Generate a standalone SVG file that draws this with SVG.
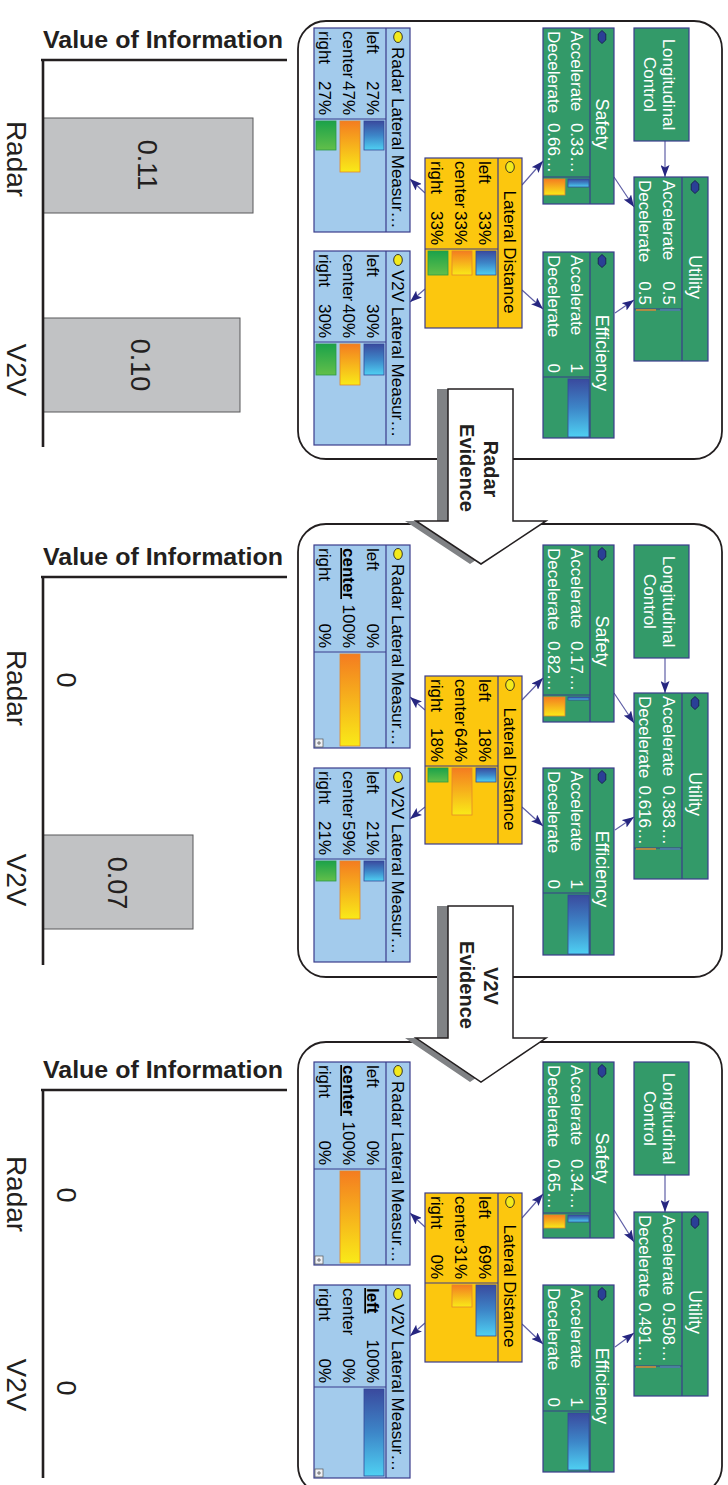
<svg xmlns="http://www.w3.org/2000/svg" xmlns:xlink="http://www.w3.org/1999/xlink" width="728" height="1485" viewBox="0 0 728 1485">
<style>
.pn{fill:#fff;stroke:#231f20;stroke-width:1.8}
.nb{fill:#a3cbec;stroke:#3b3d8c;stroke-width:1.2}
.ny{fill:#fcc70e;stroke:#3b3d8c;stroke-width:1.2}
.ng{fill:#339a69;stroke:#3b3d8c;stroke-width:1.2}
.ln{stroke:#3b3d8c;stroke-width:1.2;fill:none}
.tx{font-family:"Liberation Sans",Arial,sans-serif;font-size:17px;fill:#000}
.tw{font-family:"Liberation Sans",Arial,sans-serif;font-size:17px;fill:#fff}
.tt{font-size:18px}
.e{text-anchor:end}
.m{text-anchor:middle}
.bd{font-weight:bold;text-decoration:underline}
.bB{fill:url(#gB);stroke:#34499a;stroke-width:0.8}
.bO{fill:url(#gO);stroke:#e4872b;stroke-width:0.8}
.bG{fill:url(#gG);stroke:#2c9a48;stroke-width:0.8}
.dot{fill:#f3ea1c;stroke:#222;stroke-width:0.9}
.hex{fill:#2a3f96;stroke:#16164a;stroke-width:0.8}
.cn{stroke:#5f5fa6;stroke-width:1.2;fill:none;marker-end:url(#ah)}
.ic{fill:#eef0f4;stroke:#555;stroke-width:0.7}
.ev{fill:#fff;stroke:#231f20;stroke-width:1.5}
.sh{fill:#808285}
.et{font-family:"Liberation Sans",Arial,sans-serif;font-size:20px;font-weight:bold;fill:#231f20;text-anchor:middle}
.vt{font-family:"Liberation Sans",Arial,sans-serif;font-size:23px;font-weight:bold;fill:#231f20}
.ax{stroke:#231f20;stroke-width:2.6;fill:none}
.bar{fill:#c1c2c4;stroke:#58595b;stroke-width:1}
.cl{font-family:"Liberation Sans",Arial,sans-serif;font-size:28px;fill:#231f20;text-anchor:middle}
.cv{font-family:"Liberation Sans",Arial,sans-serif;font-size:27px;fill:#231f20;text-anchor:middle}
</style>
<defs>
<linearGradient id="gB" x1="0" y1="0" x2="1" y2="0"><stop offset="0" stop-color="#3a4a9e"/><stop offset="0.5" stop-color="#3d86c8"/><stop offset="1" stop-color="#4fd0f2"/></linearGradient>
<linearGradient id="gO" x1="0" y1="0" x2="1" y2="0"><stop offset="0" stop-color="#f47c20"/><stop offset="1" stop-color="#f9ea18"/></linearGradient>
<linearGradient id="gG" x1="0" y1="0" x2="1" y2="0"><stop offset="0" stop-color="#1ba24a"/><stop offset="1" stop-color="#62bf4a"/></linearGradient>
<marker id="ah" viewBox="0 0 12 9" refX="12" refY="4.5" markerWidth="12" markerHeight="9" markerUnits="userSpaceOnUse" orient="auto"><path d="M0,0 L12,4.5 L0,9 L2.5,4.5 Z" fill="#262680"/></marker>
<ellipse id="dt" class="dot" cx="0" cy="0" rx="5.5" ry="4.3"/>
<path id="hx" class="hex" d="M-6.5,0 L-3,-3.8 L3,-3.8 L6.5,0 L3,3.8 L-3,3.8 Z"/>
<g id="icn"><rect class="ic" x="0" y="0" width="8" height="8"/><path d="M2,4 H6 M4,2 V6" stroke="#555" stroke-width="0.8"/></g>
</defs>
<rect x="0" y="0" width="728" height="1485" fill="#fff"/>

<g id="voi1">
<text class="vt" x="43" y="48" textLength="240" lengthAdjust="spacingAndGlyphs">Value of Information</text>
<rect class="bar" x="43" y="118" width="210" height="95"/>
<rect class="bar" x="43" y="318" width="197" height="94"/>
<line class="ax" x1="41" y1="60" x2="287" y2="60"/>
<line class="ax" x1="43" y1="59" x2="43" y2="447"/>
<text class="cl" transform="translate(7,159) rotate(90)">Radar</text>
<text class="cv" transform="translate(138,165) rotate(90)">0.11</text>
<text class="cl" transform="translate(7,370) rotate(90)">V2V</text>
<text class="cv" transform="translate(131,365) rotate(90)">0.10</text>
</g>
<g id="voi2">
<text class="vt" x="43" y="565" textLength="240" lengthAdjust="spacingAndGlyphs">Value of Information</text>
<rect class="bar" x="43" y="835" width="150" height="94"/>
<line class="ax" x1="41" y1="577" x2="287" y2="577"/>
<line class="ax" x1="43" y1="576" x2="43" y2="965"/>
<text class="cl" transform="translate(7,688) rotate(90)">Radar</text>
<text class="cv" transform="translate(57,680) rotate(90)">0</text>
<text class="cl" transform="translate(7,880) rotate(90)">V2V</text>
<text class="cv" transform="translate(108,883) rotate(90)">0.07</text>
</g>
<g id="voi3">
<text class="vt" x="43" y="1078" textLength="240" lengthAdjust="spacingAndGlyphs">Value of Information</text>
<line class="ax" x1="41" y1="1090" x2="287" y2="1090"/>
<line class="ax" x1="43" y1="1089" x2="43" y2="1478"/>
<text class="cl" transform="translate(7,1194) rotate(90)">Radar</text>
<text class="cv" transform="translate(57,1195) rotate(90)">0</text>
<text class="cl" transform="translate(7,1385) rotate(90)">V2V</text>
<text class="cv" transform="translate(57,1388) rotate(90)">0</text>
</g>

<g transform="translate(728,0) rotate(90)">
<rect class="pn" x="21" y="6" width="438" height="424" rx="28"/>
<rect class="pn" x="524" y="6" width="453" height="424" rx="28"/>
<rect class="pn" x="1042" y="6" width="452" height="424" rx="28"/>

<g id="connectors">
<path class="cn" d="M141,63 L177,63"/>
<path class="cn" d="M177,114 L207,94"/>
<path class="cn" d="M313,113 L300,94"/>
<path class="cn" d="M185,206 L161,185"/>
<path class="cn" d="M290,206 L309,185"/>
<path class="cn" d="M193,303 L179,318"/>
<path class="cn" d="M289,303 L302,318"/>

<path class="cn" d="M658,63 L693,63"/>
<path class="cn" d="M693,114 L723,94"/>
<path class="cn" d="M830,113 L817,94"/>
<path class="cn" d="M700,206 L678,185"/>
<path class="cn" d="M807,206 L826,185"/>
<path class="cn" d="M710,303 L697,318"/>
<path class="cn" d="M807,303 L819,318"/>

<path class="cn" d="M1175,63 L1212,63"/>
<path class="cn" d="M1210,114 L1242,94"/>
<path class="cn" d="M1347,113 L1333,94"/>
<path class="cn" d="M1218,206 L1194,185"/>
<path class="cn" d="M1324,206 L1344,185"/>
<path class="cn" d="M1227,303 L1213,318"/>
<path class="cn" d="M1323,303 L1336,318"/>
</g>

<g id="p1-radar">
<rect class="nb" x="28" y="318" width="204" height="96"/>
<path class="ln" d="M28,342 H232 M119,342 V414"/>
<use href="#dt" x="37" y="330"/>
<text class="tx" x="47" y="336">Radar Lateral Measur…</text>
<text class="tx" x="31" y="361">left</text><text class="tx e" x="115" y="361">27%</text>
<text class="tx" x="31" y="385">center</text><text class="tx e" x="115" y="385">47%</text>
<text class="tx" x="31" y="409">right</text><text class="tx e" x="115" y="409">27%</text>
<rect class="bB" x="121" y="344" width="29" height="20"/>
<rect class="bO" x="121" y="368" width="51" height="20"/>
<rect class="bG" x="121" y="392" width="29" height="20"/>
</g>
<g id="p1-lateral">
<rect class="ny" x="158" y="206" width="170" height="97"/>
<path class="ln" d="M158,230 H328 M249,230 V303"/>
<use href="#dt" x="167" y="218"/>
<text class="tx m" x="252" y="224">Lateral Distance</text>
<text class="tx" x="161" y="249">left</text><text class="tx e" x="245" y="249">33%</text>
<text class="tx" x="161" y="273">center</text><text class="tx e" x="245" y="273">33%</text>
<text class="tx" x="161" y="297">right</text><text class="tx e" x="245" y="297">33%</text>
<rect class="bB" x="251" y="232" width="24" height="20"/>
<rect class="bO" x="251" y="256" width="24" height="20"/>
<rect class="bG" x="251" y="280" width="24" height="20"/>
</g>
<g id="p1-v2v">
<rect class="nb" x="251" y="318" width="194" height="96"/>
<path class="ln" d="M251,342 H445 M342,342 V414"/>
<use href="#dt" x="260" y="330"/>
<text class="tx" x="270" y="336">V2V Lateral Measur…</text>
<text class="tx" x="254" y="361">left</text><text class="tx e" x="338" y="361">30%</text>
<text class="tx" x="254" y="385">center</text><text class="tx e" x="338" y="385">40%</text>
<text class="tx" x="254" y="409">right</text><text class="tx e" x="338" y="409">30%</text>
<rect class="bB" x="344" y="344" width="31" height="20"/>
<rect class="bO" x="344" y="368" width="41" height="20"/>
<rect class="bG" x="344" y="392" width="31" height="20"/>
</g>
<g id="p1-safety">
<rect class="ng" x="28" y="114" width="176" height="71"/>
<path class="ln" d="M28,138 H204 M177,138 V185"/>
<use href="#hx" x="37" y="126"/>
<text class="tw tt m" x="124" y="132">Safety</text>
<text class="tw" x="31" y="157">Accelerate</text><text class="tw e" x="173" y="157">0.33…</text>
<text class="tw" x="31" y="180">Decelerate</text><text class="tw e" x="173" y="180">0.66…</text>
<rect class="bB" x="179" y="139" width="8" height="21"/>
<rect class="bO" x="179" y="163" width="16" height="21"/>
</g>
<g id="p1-longitudinal">
<rect class="ng" x="28" y="39" width="113" height="55"/>
<text class="tw m" x="84.5" y="65">Longitudinal</text>
<text class="tw m" x="84.5" y="84">Control</text>
</g>
<g id="p1-utility">
<rect class="ng" x="177" y="20" width="184" height="74"/>
<path class="ln" d="M177,46 H361 M309,46 V94"/>
<use href="#hx" x="187" y="33"/>
<text class="tw tt m" x="277" y="39">Utility</text>
<text class="tw" x="180" y="65">Accelerate</text><text class="tw e" x="305" y="65">0.5</text>
<text class="tw" x="180" y="89">Decelerate</text><text class="tw e" x="305" y="89">0.5</text>
<rect x="309" y="48" width="2" height="20" fill="#4b7fa0"/>
<rect x="309" y="72" width="2" height="20" fill="#b08a44"/>
</g>
<g id="p1-efficiency">
<rect class="ng" x="252" y="114" width="186" height="71"/>
<path class="ln" d="M252,138 H438 M377,138 V185"/>
<use href="#hx" x="261" y="126"/>
<text class="tw tt m" x="353" y="132">Efficiency</text>
<text class="tw" x="255" y="157">Accelerate</text><text class="tw e" x="373" y="157">1</text>
<text class="tw" x="255" y="180">Decelerate</text><text class="tw e" x="373" y="180">0</text>
<rect class="bB" x="379" y="139" width="58" height="21"/>
</g>

<g id="p2-radar">
<rect class="nb" x="545" y="318" width="203" height="96"/>
<path class="ln" d="M545,342 H748 M652,342 V414"/>
<use href="#dt" x="554" y="330"/>
<text class="tx" x="564" y="336">Radar Lateral Measur…</text>
<text class="tx" x="548" y="361">left</text><text class="tx e" x="648" y="361">0%</text>
<text class="tx bd" x="548" y="385">center</text><text class="tx e" x="648" y="385">100%</text>
<text class="tx" x="548" y="409">right</text><text class="tx e" x="648" y="409">0%</text>
<rect class="bO" x="654" y="368" width="92" height="20"/>
<use href="#icn" x="739" y="405"/>
</g>
<g id="p2-lateral">
<rect class="ny" x="676" y="206" width="168" height="97"/>
<path class="ln" d="M676,230 H844 M766,230 V303"/>
<use href="#dt" x="685" y="218"/>
<text class="tx m" x="769" y="224">Lateral Distance</text>
<text class="tx" x="679" y="249">left</text><text class="tx e" x="762" y="249">18%</text>
<text class="tx" x="679" y="273">center</text><text class="tx e" x="762" y="273">64%</text>
<text class="tx" x="679" y="297">right</text><text class="tx e" x="762" y="297">18%</text>
<rect class="bB" x="768" y="232" width="14" height="20"/>
<rect class="bO" x="768" y="256" width="47" height="20"/>
<rect class="bG" x="768" y="280" width="14" height="20"/>
</g>
<g id="p2-v2v">
<rect class="nb" x="768" y="318" width="194" height="96"/>
<path class="ln" d="M768,342 H962 M859,342 V414"/>
<use href="#dt" x="777" y="330"/>
<text class="tx" x="787" y="336">V2V Lateral Measur…</text>
<text class="tx" x="771" y="361">left</text><text class="tx e" x="855" y="361">21%</text>
<text class="tx" x="771" y="385">center</text><text class="tx e" x="855" y="385">59%</text>
<text class="tx" x="771" y="409">right</text><text class="tx e" x="855" y="409">21%</text>
<rect class="bB" x="861" y="344" width="20" height="20"/>
<rect class="bO" x="861" y="368" width="58" height="20"/>
<rect class="bG" x="861" y="392" width="20" height="20"/>
</g>
<g id="p2-safety">
<rect class="ng" x="545" y="114" width="177" height="71"/>
<path class="ln" d="M545,138 H722 M695,138 V185"/>
<use href="#hx" x="554" y="126"/>
<text class="tw tt m" x="641" y="132">Safety</text>
<text class="tw" x="548" y="157">Accelerate</text><text class="tw e" x="691" y="157">0.17…</text>
<text class="tw" x="548" y="180">Decelerate</text><text class="tw e" x="691" y="180">0.82…</text>
<rect class="bB" x="697" y="139" width="3" height="21"/>
<rect class="bO" x="697" y="163" width="19" height="21"/>
</g>
<g id="p2-longitudinal">
<rect class="ng" x="545" y="39" width="113" height="55"/>
<text class="tw m" x="601.5" y="65">Longitudinal</text>
<text class="tw m" x="601.5" y="84">Control</text>
</g>
<g id="p2-utility">
<rect class="ng" x="693" y="20" width="186" height="74"/>
<path class="ln" d="M693,46 H879 M848,46 V94"/>
<use href="#hx" x="703" y="33"/>
<text class="tw tt m" x="794" y="39">Utility</text>
<text class="tw" x="696" y="65">Accelerate</text><text class="tw e" x="845" y="65">0.383…</text>
<text class="tw" x="696" y="89">Decelerate</text><text class="tw e" x="845" y="89">0.616…</text>
<rect x="848" y="48" width="2" height="20" fill="#4b7fa0"/>
<rect x="848" y="72" width="2" height="20" fill="#b08a44"/>
</g>
<g id="p2-efficiency">
<rect class="ng" x="768" y="114" width="187" height="71"/>
<path class="ln" d="M768,138 H955 M893,138 V185"/>
<use href="#hx" x="777" y="126"/>
<text class="tw tt m" x="869" y="132">Efficiency</text>
<text class="tw" x="771" y="157">Accelerate</text><text class="tw e" x="889" y="157">1</text>
<text class="tw" x="771" y="180">Decelerate</text><text class="tw e" x="889" y="180">0</text>
<rect class="bB" x="895" y="139" width="59" height="21"/>
</g>

<g id="p3-radar">
<rect class="nb" x="1062" y="318" width="203" height="96"/>
<path class="ln" d="M1062,342 H1265 M1169,342 V414"/>
<use href="#dt" x="1071" y="330"/>
<text class="tx" x="1081" y="336">Radar Lateral Measur…</text>
<text class="tx" x="1065" y="361">left</text><text class="tx e" x="1165" y="361">0%</text>
<text class="tx bd" x="1065" y="385">center</text><text class="tx e" x="1165" y="385">100%</text>
<text class="tx" x="1065" y="409">right</text><text class="tx e" x="1165" y="409">0%</text>
<rect class="bO" x="1171" y="368" width="92" height="20"/>
<use href="#icn" x="1256" y="405"/>
</g>
<g id="p3-lateral">
<rect class="ny" x="1193" y="206" width="169" height="97"/>
<path class="ln" d="M1193,230 H1362 M1283,230 V303"/>
<use href="#dt" x="1202" y="218"/>
<text class="tx m" x="1286" y="224">Lateral Distance</text>
<text class="tx" x="1196" y="249">left</text><text class="tx e" x="1279" y="249">69%</text>
<text class="tx" x="1196" y="273">center</text><text class="tx e" x="1279" y="273">31%</text>
<text class="tx" x="1196" y="297">right</text><text class="tx e" x="1279" y="297">0%</text>
<rect class="bB" x="1285" y="232" width="51" height="20"/>
<rect class="bO" x="1285" y="256" width="22" height="20"/>
</g>
<g id="p3-v2v">
<rect class="nb" x="1285" y="318" width="193" height="96"/>
<path class="ln" d="M1285,342 H1478 M1387,342 V414"/>
<use href="#dt" x="1294" y="330"/>
<text class="tx" x="1304" y="336">V2V Lateral Measur…</text>
<text class="tx bd" x="1288" y="361">left</text><text class="tx e" x="1383" y="361">100%</text>
<text class="tx" x="1288" y="385">center</text><text class="tx e" x="1383" y="385">0%</text>
<text class="tx" x="1288" y="409">right</text><text class="tx e" x="1383" y="409">0%</text>
<rect class="bB" x="1389" y="344" width="87" height="20"/>
<use href="#icn" x="1469" y="405"/>
</g>
<g id="p3-safety">
<rect class="ng" x="1062" y="114" width="176" height="71"/>
<path class="ln" d="M1062,138 H1238 M1213,138 V185"/>
<use href="#hx" x="1071" y="126"/>
<text class="tw tt m" x="1158" y="132">Safety</text>
<text class="tw" x="1065" y="157">Accelerate</text><text class="tw e" x="1209" y="157">0.34…</text>
<text class="tw" x="1065" y="180">Decelerate</text><text class="tw e" x="1209" y="180">0.65…</text>
<rect class="bB" x="1215" y="139" width="7" height="21"/>
<rect class="bO" x="1215" y="163" width="13" height="21"/>
</g>
<g id="p3-longitudinal">
<rect class="ng" x="1062" y="39" width="113" height="55"/>
<text class="tw m" x="1118.5" y="65">Longitudinal</text>
<text class="tw m" x="1118.5" y="84">Control</text>
</g>
<g id="p3-utility">
<rect class="ng" x="1212" y="20" width="184" height="74"/>
<path class="ln" d="M1212,46 H1396 M1366,46 V94"/>
<use href="#hx" x="1222" y="33"/>
<text class="tw tt m" x="1312" y="39">Utility</text>
<text class="tw" x="1215" y="65">Accelerate</text><text class="tw e" x="1362" y="65">0.508…</text>
<text class="tw" x="1215" y="89">Decelerate</text><text class="tw e" x="1362" y="89">0.491…</text>
<rect x="1366" y="48" width="2" height="20" fill="#4b7fa0"/>
<rect x="1366" y="72" width="2" height="20" fill="#b08a44"/>
</g>
<g id="p3-efficiency">
<rect class="ng" x="1285" y="114" width="187" height="71"/>
<path class="ln" d="M1285,138 H1472 M1411,138 V185"/>
<use href="#hx" x="1294" y="126"/>
<text class="tw tt m" x="1386" y="132">Efficiency</text>
<text class="tw" x="1288" y="157">Accelerate</text><text class="tw e" x="1407" y="157">1</text>
<text class="tw" x="1288" y="180">Decelerate</text><text class="tw e" x="1407" y="180">0</text>
<rect class="bB" x="1413" y="139" width="57" height="21"/>
</g>

<g id="radar-evidence">
<polygon class="sh" points="389,226 521,226 521,193 564,258 521,323 521,291 389,291"/>
<polygon class="ev" points="389,215 521,215 521,182 564,247 521,312 521,280 389,280"/>
<text class="et" x="469" y="244">Radar</text>
<text class="et" x="468" y="268">Evidence</text>
</g>
<g id="v2v-evidence">
<polygon class="sh" points="906,226 1038,226 1038,193 1082,258 1038,323 1038,291 906,291"/>
<polygon class="ev" points="906,215 1038,215 1038,182 1082,247 1038,312 1038,280 906,280"/>
<text class="et" x="986" y="244">V2V</text>
<text class="et" x="985" y="268">Evidence</text>
</g>
</g>
</svg>
